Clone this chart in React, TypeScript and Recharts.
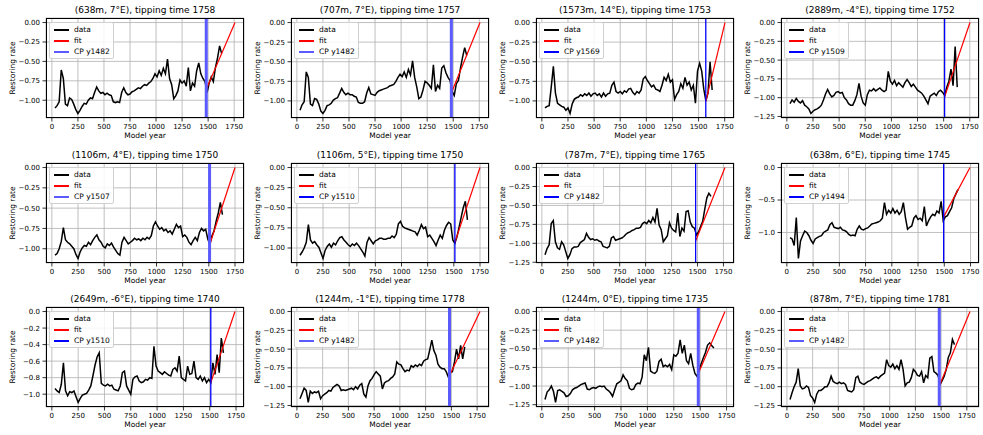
import React from "react";
import { LineChart, Line, XAxis, YAxis, CartesianGrid, ReferenceLine } from "recharts";

// model years shared by every panel
const YEARS = [
  30, 50, 70, 90, 110, 130, 150, 170, 190, 210,
  230, 250, 270, 290, 310, 330, 350, 370, 390, 410,
  430, 450, 470, 490, 510, 530, 550, 570, 590, 610,
  630, 650, 670, 690, 710, 730, 750, 770, 790, 810,
  830, 850, 870, 890, 910, 930, 950, 970, 990, 1010,
  1030, 1050, 1070, 1090, 1110, 1130, 1150, 1170, 1190, 1210,
  1230, 1250, 1270, 1290, 1310, 1330, 1350, 1370, 1390, 1410,
  1430, 1450, 1470, 1490, 1510, 1530, 1550, 1570, 1590, 1610,
  1630,
];

const TITLES = [
  "(638m, 7°E), tipping time 1758",
  "(707m, 7°E), tipping time 1757",
  "(1573m, 14°E), tipping time 1753",
  "(2889m, -4°E), tipping time 1752",
  "(1106m, 4°E), tipping time 1750",
  "(1106m, 5°E), tipping time 1750",
  "(787m, 7°E), tipping time 1765",
  "(638m, 6°E), tipping time 1745",
  "(2649m, -6°E), tipping time 1740",
  "(1244m, -1°E), tipping time 1778",
  "(1244m, 0°E), tipping time 1735",
  "(878m, 7°E), tipping time 1781",
];
const TIPS = [1758, 1757, 1753, 1752, 1750, 1750, 1765, 1745, 1740, 1778, 1735, 1781];
const CPS = [1482, 1482, 1569, 1509, 1507, 1510, 1482, 1494, 1510, 1482, 1482, 1482];
const FIT_START = [-0.86, -0.9, -1.01, -0.99, -0.955, -0.93, -0.97, -0.76, -0.86, -0.85, -0.83, -0.99];
const CP_THICK = [true, true, false, false, true, false, false, false, false, true, true, true];

const D1 = [
  -1.10, -1.07, -1.02, -0.61, -0.72, -1.05, -1.07, -0.97, -0.99, -1.05,
  -1.12, -1.17, -1.13, -1.08, -1.04, -1.05, -1.00, -0.97, -0.98, -0.90,
  -0.83, -0.88, -0.91, -0.90, -0.93, -0.91, -0.93, -0.94, -1.02, -1.03,
  -1.02, -1.03, -0.90, -0.84, -0.90, -0.93, -0.92, -0.89, -0.88, -0.86,
  -0.84, -0.85, -0.82, -0.80, -0.81, -0.78, -0.76, -0.72, -0.66, -0.70,
  -0.62, -0.68, -0.59, -0.66, -0.47, -0.72, -0.80, -0.98, -0.94, -0.88,
  -0.74, -0.78, -0.75, -0.82, -0.58, -0.88, -0.78, -0.82, -0.62, -0.52,
  -0.66, -0.72, -0.76, -0.90, -0.78, -0.70, -0.76, -0.58, -0.46, -0.30,
  -0.40,
];
const D2 = [
  -1.12, -1.05, -1.01, -0.63, -0.70, -1.04, -1.06, -0.97, -0.98, -1.04,
  -1.13, -1.16, -1.12, -1.06, -1.05, -1.03, -0.99, -0.97, -0.96, -0.90,
  -0.84, -0.89, -0.92, -0.90, -0.92, -0.92, -0.94, -0.95, -1.02, -1.03,
  -1.03, -1.01, -0.90, -0.83, -0.91, -0.92, -0.93, -0.89, -0.87, -0.86,
  -0.85, -0.84, -0.83, -0.81, -0.80, -0.79, -0.75, -0.70, -0.66, -0.69,
  -0.63, -0.70, -0.60, -0.67, -0.49, -0.70, -0.82, -0.97, -0.95, -0.86,
  -0.75, -0.77, -0.80, -0.84, -0.54, -0.88, -0.80, -0.84, -0.58, -0.55,
  -0.64, -0.70, -0.74, -0.88, -0.93, -0.78, -0.74, -0.58, -0.44, -0.32,
  -0.42,
];
const D3 = [
  -1.09, -1.07, -1.06, -0.82, -0.56, -0.90, -1.03, -1.05, -1.07, -1.08,
  -1.12, -1.09, -1.16, -1.04, -0.98, -0.96, -0.95, -0.92, -0.94, -0.91,
  -0.93, -0.90, -0.94, -0.91, -0.90, -0.93, -0.91, -0.95, -0.90, -0.94,
  -0.91, -0.90, -0.80, -0.76, -0.88, -0.90, -0.88, -0.91, -0.87, -0.89,
  -0.85, -0.84, -0.89, -0.92, -0.88, -0.90, -0.86, -0.72, -0.69, -0.74,
  -0.78, -0.82, -0.80, -0.85, -0.86, -0.88, -0.80, -0.70, -0.74, -0.66,
  -0.76, -0.73, -0.98, -0.92, -0.88, -0.78, -0.84, -0.70, -0.80, -0.76,
  -0.86, -0.80, -1.03, -0.62, -0.52, -0.62, -0.85, -1.00, -0.90, -0.50,
  -0.86,
];
const D4 = [
  -1.08, -1.03, -1.06, -1.01, -1.05, -1.07, -1.04, -1.10, -1.12, -1.15,
  -1.21, -1.18, -1.16, -1.15, -1.13, -1.10, -1.03, -0.95, -0.89, -0.95,
  -0.99, -0.97, -0.93, -0.92, -0.94, -0.93, -1.00, -1.03, -1.08, -1.10,
  -1.10, -1.04, -0.96, -0.81, -0.98, -1.07, -1.10, -0.96, -0.90, -0.91,
  -0.88, -0.91, -0.89, -0.87, -0.90, -0.92, -0.90, -0.65, -0.78, -0.82,
  -0.77, -0.84, -0.80, -0.83, -0.86, -0.80, -0.76, -0.80, -0.85, -0.82,
  -0.86, -0.90, -0.92, -0.94, -0.98, -1.03, -1.08, -0.98, -0.96, -0.94,
  -0.97, -0.92, -0.90, -0.93, -0.97, -0.86, -0.78, -0.62, -0.84, -0.32,
  -0.86,
];
const D5 = [
  -1.08, -1.06, -1.00, -0.91, -0.74, -0.89, -0.92, -0.94, -0.97, -1.00,
  -1.07, -1.12, -1.04, -0.99, -0.96, -0.97, -0.92, -0.95, -0.90, -0.86,
  -0.83, -0.89, -0.92, -0.97, -0.99, -0.94, -0.96, -0.93, -0.98, -1.02,
  -1.06, -1.08, -0.92, -0.86, -0.90, -0.94, -0.92, -0.90, -0.87, -0.89,
  -0.88, -0.90, -0.87, -0.89, -0.86, -0.88, -0.84, -0.72, -0.67, -0.72,
  -0.76, -0.74, -0.78, -0.76, -0.80, -0.78, -0.82, -0.76, -0.70, -0.74,
  -0.72, -0.85, -0.83, -0.86, -0.92, -0.95, -0.90, -0.86, -0.90, -0.80,
  -0.75, -0.78, -0.76, -0.88, -0.95, -0.84, -0.78, -0.66, -0.56, -0.43,
  -0.58,
];
const D6 = [
  -1.09, -1.05, -1.00, -0.93, -0.71, -0.90, -0.94, -0.92, -0.96, -0.99,
  -1.06, -1.13, -1.03, -0.98, -0.95, -0.99, -0.94, -0.96, -0.91, -0.87,
  -0.86, -0.90, -0.93, -0.96, -0.98, -0.95, -0.97, -0.94, -0.97, -1.01,
  -1.05, -1.10, -0.93, -0.87, -0.91, -0.95, -0.91, -0.90, -0.88, -0.88,
  -0.89, -0.89, -0.88, -0.88, -0.85, -0.87, -0.83, -0.70, -0.67, -0.73,
  -0.75, -0.76, -0.77, -0.78, -0.79, -0.80, -0.84, -0.78, -0.71, -0.76,
  -0.74, -0.86, -0.84, -0.88, -0.92, -0.97, -0.90, -0.84, -0.88, -0.78,
  -0.72, -0.68, -0.70, -0.90, -0.94, -0.86, -0.74, -0.62, -0.50, -0.42,
  -0.65,
];
const D7 = [
  -1.15, -1.07, -1.02, -0.74, -0.70, -0.98, -1.06, -1.08, -0.98, -1.02,
  -1.11, -1.20, -1.15, -1.07, -1.05, -1.05, -1.04, -0.99, -0.97, -0.95,
  -0.87, -0.92, -0.95, -0.94, -0.96, -0.95, -0.97, -0.98, -1.04, -1.05,
  -1.06, -1.04, -0.93, -0.91, -0.96, -0.95, -0.94, -0.93, -0.91, -0.88,
  -0.86, -0.85, -0.83, -0.82, -0.80, -0.80, -0.79, -0.74, -0.72, -0.74,
  -0.70, -0.73, -0.66, -0.72, -0.54, -0.76, -0.82, -0.98, -0.94, -0.90,
  -0.73, -0.80, -0.83, -0.85, -0.60, -0.91, -0.80, -0.84, -0.58, -0.57,
  -0.72, -0.78, -0.80, -0.89, -0.85, -0.78, -0.71, -0.55, -0.40, -0.34,
  -0.38,
];
const D8 = [
  -1.08, -1.10, -1.20, -0.77, -1.40, -1.13, -1.05, -0.98, -1.00, -1.05,
  -1.12, -1.17, -1.10, -1.08, -1.06, -1.05, -1.00, -0.98, -0.96, -0.88,
  -0.85, -0.92, -0.93, -0.94, -0.92, -0.96, -0.97, -0.99, -1.03, -1.05,
  -1.04, -1.05, -0.95, -0.90, -0.95, -0.96, -0.94, -0.93, -0.90, -0.87,
  -0.86, -0.85, -0.84, -0.82, -0.78, -0.54, -0.72, -0.66, -0.70, -0.63,
  -0.70, -0.66, -0.72, -0.68, -0.54, -0.77, -0.95, -0.92, -0.90, -0.78,
  -0.74, -0.80, -0.78, -0.82, -0.60, -0.90, -0.82, -0.76, -0.72, -0.74,
  -0.67, -0.70, -0.52, -0.82, -0.76, -0.74, -0.68, -0.62, -0.48, -0.41,
  -0.34,
];
const D9 = [
  -0.93, -0.96, -0.98, -0.88, -0.62, -0.96, -1.02, -0.97, -0.98, -0.96,
  -1.03, -1.10, -1.05, -1.01, -1.00, -0.99, -0.95, -0.90, -0.78, -0.65,
  -0.55, -0.50, -0.87, -0.89, -0.90, -0.88, -0.90, -0.89, -0.94, -0.95,
  -0.96, -0.90, -0.74, -0.72, -0.90, -0.95, -1.00, -0.82, -0.79, -0.78,
  -0.84, -0.86, -0.85, -0.82, -0.83, -0.80, -0.81, -0.42, -0.66, -0.72,
  -0.74, -0.76, -0.73, -0.75, -0.77, -0.78, -0.70, -0.68, -0.72, -0.54,
  -0.80, -0.82, -0.84, -0.66, -0.76, -0.75, -0.60, -0.80, -0.82, -0.78,
  -0.84, -0.80, -0.86, -0.82, -0.86, -0.62, -0.76, -0.52, -0.74, -0.32,
  -0.50,
];
const D10 = [
  -1.16, -1.09, -1.02, -1.05, -1.21, -1.06, -1.09, -1.07, -1.08, -1.06,
  -1.16, -1.12, -1.10, -1.08, -1.05, -1.06, -1.01, -0.99, -0.97, -0.99,
  -1.05, -1.04, -1.05, -1.04, -1.03, -1.02, -1.04, -1.00, -1.03, -0.98,
  -0.96, -1.10, -1.14, -0.99, -0.92, -0.89, -0.84, -0.80, -0.83, -0.86,
  -1.03, -0.95, -0.93, -0.92, -0.89, -0.87, -0.83, -0.67, -0.70, -0.71,
  -0.76, -0.80, -0.78, -0.79, -0.72, -0.74, -0.71, -0.73, -0.70, -0.72,
  -0.66, -0.64, -0.63, -0.51, -0.38, -0.52, -0.58, -0.70, -0.74, -0.76,
  -0.76, -0.80, -0.87, -0.80, -0.80, -0.67, -0.50, -0.63, -0.45, -0.63,
  -0.47,
];
const D11 = [
  -1.18, -1.08, -1.05, -1.00, -1.07, -1.22, -1.06, -1.05, -1.07, -1.09,
  -1.14, -1.13, -1.10, -1.05, -1.03, -1.02, -1.00, -0.98, -0.97, -0.96,
  -1.04, -1.05, -1.03, -1.02, -1.03, -1.01, -1.00, -1.01, -1.00, -1.04,
  -1.06, -1.09, -1.14, -1.05, -0.97, -0.95, -0.93, -0.85, -0.90, -0.93,
  -1.03, -1.05, -1.04, -0.98, -0.96, -0.97, -0.88, -0.58, -0.66, -0.48,
  -0.80, -0.82, -0.83, -0.80, -0.67, -0.64, -0.74, -0.72, -0.74, -0.71,
  -0.78, -0.58, -0.60, -0.56, -0.38, -0.56, -0.45, -0.66, -0.70, -0.56,
  -0.72, -0.83, -0.87, -0.78, -0.70, -0.62, -0.55, -0.45, -0.42, -0.46,
  -0.49,
];
const D12 = [
  -1.17, -1.08, -1.00, -0.94, -0.76, -0.99, -1.03, -1.02, -0.99, -1.01,
  -1.12, -1.15, -1.21, -1.10, -1.05, -1.05, -1.03, -1.00, -1.00, -0.95,
  -0.86, -0.93, -0.95, -0.96, -0.94, -0.96, -0.95, -0.97, -1.05, -1.06,
  -1.07, -1.04, -0.88, -0.86, -0.94, -0.96, -0.97, -0.95, -0.93, -0.92,
  -0.90, -0.88, -0.87, -0.89, -0.86, -0.84, -0.82, -0.64, -0.72, -0.74,
  -0.70, -0.76, -0.72, -0.77, -0.64, -0.77, -0.99, -0.95, -0.94, -0.88,
  -0.77, -0.80, -0.85, -0.86, -0.80, -0.95, -0.85, -0.88, -0.62, -0.60,
  -0.80, -0.82, -0.85, -0.97, -0.92, -0.86, -0.77, -0.61, -0.55, -0.37,
  -0.44,
];
const DATA = [D1, D2, D3, D4, D5, D6, D7, D8, D9, D10, D11, D12];

const X_TICKS = [0, 250, 500, 750, 1000, 1250, 1500, 1750];
const Y_TICKS_A = [-1, -0.75, -0.5, -0.25, 0];
const Y_TICKS_B = [-1.25, -1, -0.75, -0.5, -0.25, 0];
const Y_TICKS_C = [-1, -0.5, 0];
const Y_TICKS_D = [-1, -0.8, -0.6, -0.4, -0.2, 0];
const Y_TICKS = [Y_TICKS_A, Y_TICKS_A, Y_TICKS_A, Y_TICKS_B, Y_TICKS_A, Y_TICKS_A, Y_TICKS_B, Y_TICKS_C, Y_TICKS_D, Y_TICKS_B, Y_TICKS_B, Y_TICKS_B];
const Y_DEC = [2, 2, 2, 2, 2, 2, 2, 1, 1, 2, 2, 2];

const COL_X = [46, 291, 536, 781];
const ROW_Y = [18, 163, 307];
const PW = 198;
const PH = 100;

const FONT = "'DejaVu Sans', sans-serif";

function fmt(v: number, d: number) {
  const s = Math.abs(v).toFixed(d);
  return v < 0 ? "\u2212" + s : s;
}

function Panel({ i }: { i: number }) {
  const L = COL_X[i % 4];
  const T = ROW_Y[Math.floor(i / 4)];
  const vals = DATA[i];
  const series = YEARS.map((x, k) => ({ x, v: vals[k] }));
  const fit = [
    { x: CPS[i], f: FIT_START[i] },
    { x: TIPS[i], f: 0 },
  ];
  const xs = TIPS[i] - YEARS[0];
  const xDomain = [YEARS[0] - 0.05 * xs, TIPS[i] + 0.05 * xs];
  const lo = Math.min(...vals, FIT_START[i]);
  const hi = Math.max(...vals, 0);
  const ys = hi - lo;
  const yDomain = [lo - 0.05 * ys, hi + 0.05 * ys];
  const cpColor = CP_THICK[i] ? "#5a5aff" : "#0000ff";
  const cpWidth = CP_THICK[i] ? 3 : 1.3;
  const tick = { fontSize: 7, fill: "#000", fontFamily: FONT };
  const rows = [
    { label: "data", color: "#000000" },
    { label: "fit", color: "#ff0000" },
    { label: `CP y${CPS[i]}`, color: cpColor },
  ];

  return (
    <>
      <div
        style={{
          position: "absolute",
          left: L,
          width: PW,
          top: T - 13,
          textAlign: "center",
          fontSize: 9,
          lineHeight: "11px",
          whiteSpace: "nowrap",
        }}
      >
        {TITLES[i]}
      </div>
      <div style={{ position: "absolute", left: L - 44, top: T - 2 }}>
        <LineChart width={244} height={118} margin={{ top: 2, right: 2, left: 0, bottom: 0 }}>
          <CartesianGrid stroke="#b0b0b0" strokeWidth={0.8} />
          <XAxis
            dataKey="x"
            type="number"
            domain={xDomain}
            ticks={X_TICKS}
            allowDataOverflow
            axisLine={false}
            tickSize={3.5}
            tickMargin={2.5}
            tickLine={{ stroke: "#000", strokeWidth: 0.8 }}
            tick={tick}
            height={16}
            interval={0}
          />
          <YAxis
            type="number"
            domain={yDomain}
            ticks={Y_TICKS[i]}
            allowDataOverflow
            axisLine={false}
            tickSize={3.5}
            tickMargin={2.5}
            tickLine={{ stroke: "#000", strokeWidth: 0.8 }}
            tick={tick}
            width={44}
            interval={0}
            tickFormatter={(v: number) => fmt(v, Y_DEC[i])}
          />
          <Line data={series} dataKey="v" stroke="#000" strokeWidth={1.5} dot={false} isAnimationActive={false} />
          <Line data={fit} dataKey="f" stroke="#ff0000" strokeWidth={1.2} dot={false} isAnimationActive={false} />
          <ReferenceLine x={CPS[i]} stroke={cpColor} strokeWidth={cpWidth} />
        </LineChart>
      </div>
      <div
        style={{
          position: "absolute",
          left: L,
          top: T,
          width: PW,
          height: PH,
          boxSizing: "border-box",
          border: "1px solid #000",
          pointerEvents: "none",
        }}
      />
      <div
        style={{
          position: "absolute",
          left: L + 3,
          top: T + 4,
          width: 65,
          height: 37,
          boxSizing: "border-box",
          border: "1px solid #d0d0d0",
          borderRadius: 2,
          background: "rgba(255,255,255,0.85)",
          fontSize: 7.5,
        }}
      >
        {rows.map((r, k) => (
          <div key={k} style={{ position: "absolute", left: 0, top: 1 + k * 11, height: 11, width: 63 }}>
            <div
              style={{
                position: "absolute",
                left: 4,
                top: 5,
                width: 15,
                height: 2,
                backgroundColor: r.color,
              }}
            />
            <div style={{ position: "absolute", left: 24, top: 1, lineHeight: "9px", whiteSpace: "nowrap" }}>
              {r.label}
            </div>
          </div>
        ))}
      </div>
      <div
        style={{
          position: "absolute",
          left: L,
          width: PW,
          top: T + PH + 13,
          textAlign: "center",
          fontSize: 7.5,
          lineHeight: "10px",
        }}
      >
        Model year
      </div>
      <div
        style={{
          position: "absolute",
          left: L - 34,
          top: T + PH / 2,
          transform: "translate(-50%, -50%) rotate(-90deg)",
          fontSize: 7.5,
          whiteSpace: "nowrap",
        }}
      >
        Restoring rate
      </div>
    </>
  );
}

export default function App() {
  return (
    <div
      style={{
        position: "absolute",
        left: 0,
        top: 0,
        width: 983,
        height: 435,
        background: "#fff",
        fontFamily: FONT,
        color: "#000",
        overflow: "hidden",
      }}
    >
      {TITLES.map((_, i) => (
        <Panel key={i} i={i} />
      ))}
    </div>
  );
}
